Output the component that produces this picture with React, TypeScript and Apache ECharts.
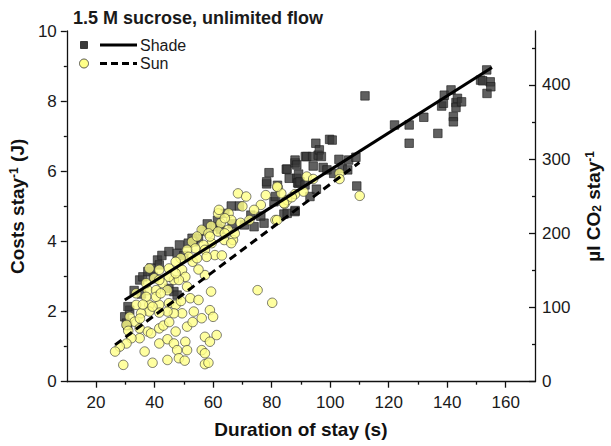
import React, { useEffect, useRef } from "react";
import * as echarts from "echarts";

const FONT = "'Liberation Sans', Arial, sans-serif";

const chartTitle = "1.5 M sucrose, unlimited flow";
const xTickLabels = [20, 40, 60, 80, 100, 120, 140, 160];
const xMinorTicks = [30, 50, 70, 90, 110, 130, 150];
const rightTickLabels = [0, 100, 200, 300, 400];
const rightMinorTicks = [50, 150, 250, 350, 450];

// Shade (dark squares)
const shadeX = [29.8, 30.4, 30.8, 31.5, 30.9, 33, 34.9, 35.5, 36, 37.7, 38.8, 39.5, 41, 41.6, 42.5, 44.9, 44.9, 46.6, 47.7, 47.7, 48.5, 50, 51.5, 52.8, 53.4, 55, 56.5, 58, 60, 61.5, 62.5, 64, 66.2, 66.5, 69, 70.7, 72.9, 74, 76.3, 77.4, 78.3, 78.3, 79.1, 80.8, 81.3, 82, 84.2, 85, 85.3, 85.3, 86, 88, 88, 88, 88, 88.6, 88.6, 88.9, 89.2, 89.2, 89.7, 91.4, 91.5, 92, 93.1, 94, 94.2, 95.1, 95.3, 95.9, 96.3, 97, 97.6, 98.9, 99.8, 100.7, 101.2, 103, 104.1, 106, 106.3, 108.8, 109.1, 111.9, 122, 127, 127, 132, 136.8, 138.1, 138.7, 139, 141.3, 142.1, 142.1, 143, 143, 143.5, 144.9, 151.4, 152.1, 153.5, 153.6, 154.7, 154.9];
const shadeY = [1.85, 1.67, 1.60, 2.04, 2.14, 2.6, 2.90, 2.5, 2.99, 3.14, 3.24, 3.0, 3.47, 3.33, 3.6, 3.71, 2.66, 2.57, 2.47, 3.66, 3.9, 3.6, 3.95, 4.09, 3.99, 4.1, 4.3, 4.5, 4.42, 4.6, 4.35, 4.8, 5.01, 4.5, 5.01, 4.47, 4.75, 4.42, 4.72, 4.52, 5.64, 5.70, 5.96, 5.13, 5.28, 5.6, 4.78, 6.06, 4.80, 6.06, 5.8, 4.85, 4.88, 6.24, 6.32, 6.18, 5.80, 5.67, 5.92, 5.66, 5.70, 5.61, 6.42, 6.42, 5.28, 6.42, 6.15, 6.80, 5.49, 6.46, 6.61, 6.42, 6.11, 6.04, 6.91, 6.89, 5.94, 6.34, 6.08, 6.04, 6.32, 6.40, 5.58, 8.15, 7.32, 7.32, 6.80, 7.54, 7.08, 7.86, 7.94, 8.17, 8.32, 7.56, 7.41, 7.96, 7.82, 8.08, 7.98, 8.6, 8.58, 8.89, 8.22, 8.55, 8.41];

// Sun (yellow circles)
const sunX = [68.5, 71.3, 82.1, 83.3, 88, 90.9, 76.3, 84.4, 81.3, 65.3, 66.2, 69.4, 62.6, 59.3, 56.1, 58.4, 61.7, 65.1, 63.8, 66.8, 59.5, 56.7, 52.8, 53.9, 51.1, 57.2, 60.6, 57.8, 51.7, 48.9, 47.2, 53, 44.9, 49.4, 50.5, 46.6, 42.7, 39.9, 37.7, 40.5, 44.4, 51.1, 57.2, 59.3, 75.2, 80.2, 33.7, 38.2, 41.6, 44.9, 47.2, 52.2, 55, 53.4, 49.4, 46.6, 44.4, 41.6, 38.2, 35.4, 31.5, 33.2, 58.9, 56.1, 60, 30.4, 34.9, 37.7, 38.8, 41.6, 47.2, 51.1, 57.2, 61.2, 58.9, 34.9, 32.1, 30.4, 28.1, 26.5, 36.6, 41.6, 44.4, 46.6, 47.7, 50.5, 51.1, 56.1, 57.2, 44.4, 48.3, 50.3, 29.3, 39.3, 57.2, 58.4, 72.4, 37.1, 40.5, 41.6, 41.6, 38.2, 37.1, 33.7, 44.9, 48.3, 47.2, 42.1, 39.3, 54.5, 61.7, 58.9, 64, 64, 67.4, 66.2, 54.5, 78, 85.3, 81.9, 84.2, 86.9, 92, 94.2, 103.2, 103.2, 110.1, 81.9, 31, 35, 36, 43, 45, 49, 53, 55, 62, 70, 74, 63];
const sunY = [5.37, 5.28, 5.54, 5.37, 5.35, 5.42, 5.04, 5.07, 4.61, 4.80, 4.61, 4.53, 4.52, 4.44, 4.33, 4.23, 4.28, 4.33, 4.04, 4.04, 3.95, 3.90, 3.99, 3.80, 3.76, 3.76, 3.61, 3.56, 3.56, 3.52, 3.42, 3.42, 3.23, 3.19, 2.99, 2.90, 2.81, 2.95, 2.61, 2.61, 2.61, 2.71, 3.04, 2.57, 2.61, 2.25, 2.19, 2.19, 2.19, 2.24, 2.19, 2.38, 2.33, 2.00, 1.95, 1.95, 2.00, 1.97, 2.00, 1.95, 1.85, 1.71, 2.04, 1.81, 1.85, 1.62, 1.52, 1.43, 1.38, 1.52, 1.43, 1.57, 1.28, 1.33, 1.14, 1.24, 1.24, 1.09, 1.00, 0.86, 0.86, 1.09, 1.21, 1.09, 0.90, 1.14, 0.90, 0.90, 0.81, 0.62, 0.67, 0.60, 0.48, 0.54, 0.50, 0.54, 4.61, 2.42, 2.42, 2.90, 3.19, 3.23, 2.81, 2.52, 2.99, 2.90, 3.09, 2.52, 2.14, 4.14, 4.80, 4.14, 4.66, 4.23, 4.23, 3.95, 3.52, 5.32, 5.18, 5.56, 5.09, 5.26, 5.85, 5.78, 5.94, 5.78, 5.30, 4.61, 1.45, 1.8, 2.2, 1.6, 1.7, 2.3, 1.7, 3.2, 4.9, 5.0, 4.9, 3.6];

// Linear fits: [slope, intercept], x-range
const shadeFit = [0.05283, 0.756];
const shadeFitRange = [29.8, 155.3];
const sunFit = [0.0623, -0.601];
const sunFitRange = [26.5, 110];

// Right axis: µl CO2 equivalent of the 0–10 J range
const rightAxisMax = 472.8;

const zip = (xs: number[], ys: number[]) => xs.map((x, i) => [x, ys[i]]);
const fitLine = (fit: number[], range: number[]) => range.map((x) => [x, fit[0] * x + fit[1]]);

export default function App() {
  const ref = useRef<HTMLDivElement>(null);

  useEffect(() => {
    document.body.style.margin = "0";
    if (!ref.current) return;
    const chart = echarts.init(ref.current, undefined, { renderer: "svg" });

    const labelStyle = { color: "#1a1a1a", fontSize: 17, fontFamily: FONT };
    const nameStyle = {
      color: "#111",
      fontSize: 19,
      fontWeight: "bold",
      fontFamily: FONT,
      rich: {
        sup: { fontSize: 12, fontWeight: "bold", fontFamily: FONT, color: "#111", verticalAlign: "top" },
        sub: { fontSize: 12, fontWeight: "bold", fontFamily: FONT, color: "#111", verticalAlign: "bottom" },
      },
    };
    const axisLine = { show: true, lineStyle: { color: "#111", width: 1.3 } };

    chart.setOption({
      animation: false,
      backgroundColor: "#fff",
      title: {
        text: chartTitle,
        left: 68,
        top: 4,
        textStyle: { fontSize: 18, fontWeight: "bold", color: "#1a1a1a", fontFamily: FONT },
      },
      grid: { left: 66, right: 68.4, top: 31, bottom: 64.3 },
      xAxis: [
        {
          type: "value",
          min: 10,
          max: 170,
          name: "Duration of stay (s)",
          nameLocation: "middle",
          nameGap: 38,
          nameTextStyle: nameStyle,
          axisLine,
          axisTick: { show: true, length: 6, customValues: xTickLabels, lineStyle: { color: "#111", width: 1.3 } },
          axisLabel: { ...labelStyle, margin: 12, customValues: xTickLabels },
          splitLine: { show: false },
        },
        {
          type: "value",
          min: 10,
          max: 170,
          position: "bottom",
          axisLine: { show: false },
          axisTick: { show: true, length: 3, customValues: xMinorTicks, lineStyle: { color: "#111", width: 1.3 } },
          axisLabel: { show: false },
          splitLine: { show: false },
        },
      ],
      yAxis: [
        {
          type: "value",
          min: 0,
          max: 10,
          interval: 2,
          position: "left",
          name: "Costs stay{sup|-1} (J)",
          nameLocation: "middle",
          nameGap: 36,
          nameTextStyle: nameStyle,
          axisLine,
          axisTick: { show: true, length: 6, lineStyle: { color: "#111", width: 1.3 } },
          minorTick: { show: true, splitNumber: 2, length: 3, lineStyle: { color: "#111", width: 1.3 } },
          axisLabel: { ...labelStyle, margin: 10 },
          splitLine: { show: false },
        },
        {
          type: "value",
          min: 0,
          max: rightAxisMax,
          position: "right",
          name: "µl CO{sub|2} stay{sup|-1}",
          nameLocation: "middle",
          nameGap: 49,
          nameTextStyle: nameStyle,
          axisLine,
          axisTick: { show: true, inside: true, length: 6, customValues: rightTickLabels, lineStyle: { color: "#111", width: 1.3 } },
          axisLabel: { ...labelStyle, margin: 7, customValues: rightTickLabels },
          splitLine: { show: false },
        },
        {
          type: "value",
          min: 0,
          max: rightAxisMax,
          position: "right",
          axisLine: { show: false },
          axisTick: { show: true, inside: true, length: 3, customValues: rightMinorTicks, lineStyle: { color: "#111", width: 1.3 } },
          axisLabel: { show: false },
          splitLine: { show: false },
        },
      ],
      graphic: [
        { type: "rect", shape: { x: 80.5, y: 41.5, width: 7, height: 7 }, style: { fill: "#3a3a3a", stroke: "#1e1e1e", lineWidth: 0.8 } },
        { type: "line", shape: { x1: 100, y1: 45, x2: 137, y2: 45 }, style: { stroke: "#000", lineWidth: 3 } },
        { type: "text", x: 140, y: 45, style: { text: "Shade", fontSize: 16, fontFamily: FONT, fill: "#1a1a1a", verticalAlign: "middle" } },
        { type: "circle", shape: { cx: 84, cy: 63.5, r: 4.5 }, style: { fill: "#ffff88", stroke: "#333", lineWidth: 0.8 } },
        { type: "line", shape: { x1: 100, y1: 63.5, x2: 137, y2: 63.5 }, style: { stroke: "#000", lineWidth: 3, lineDash: [7, 4] } },
        { type: "text", x: 140, y: 63.5, style: { text: "Sun", fontSize: 16, fontFamily: FONT, fill: "#1a1a1a", verticalAlign: "middle" } },
      ],
      series: [
        {
          name: "Shade",
          type: "scatter",
          symbol: "rect",
          symbolSize: 8.5,
          data: zip(shadeX, shadeY),
          itemStyle: { color: "#383838", borderColor: "#1e1e1e", borderWidth: 0.8 },
          z: 2,
        },
        {
          name: "Sun",
          type: "scatter",
          symbol: "circle",
          symbolSize: 9.5,
          data: zip(sunX, sunY),
          itemStyle: { color: "#ffff88", borderColor: "#333", borderWidth: 0.8 },
          z: 3,
        },
        {
          name: "Shade fit",
          type: "line",
          data: fitLine(shadeFit, shadeFitRange),
          showSymbol: false,
          symbol: "none",
          lineStyle: { color: "#000", width: 3 },
          z: 4,
        },
        {
          name: "Sun fit",
          type: "line",
          data: fitLine(sunFit, sunFitRange),
          showSymbol: false,
          symbol: "none",
          lineStyle: { color: "#000", width: 3, type: [8, 5] },
          z: 4,
        },
      ],
    });

    return () => chart.dispose();
  }, []);

  return <div ref={ref} style={{ width: 611, height: 446 }} />;
}
